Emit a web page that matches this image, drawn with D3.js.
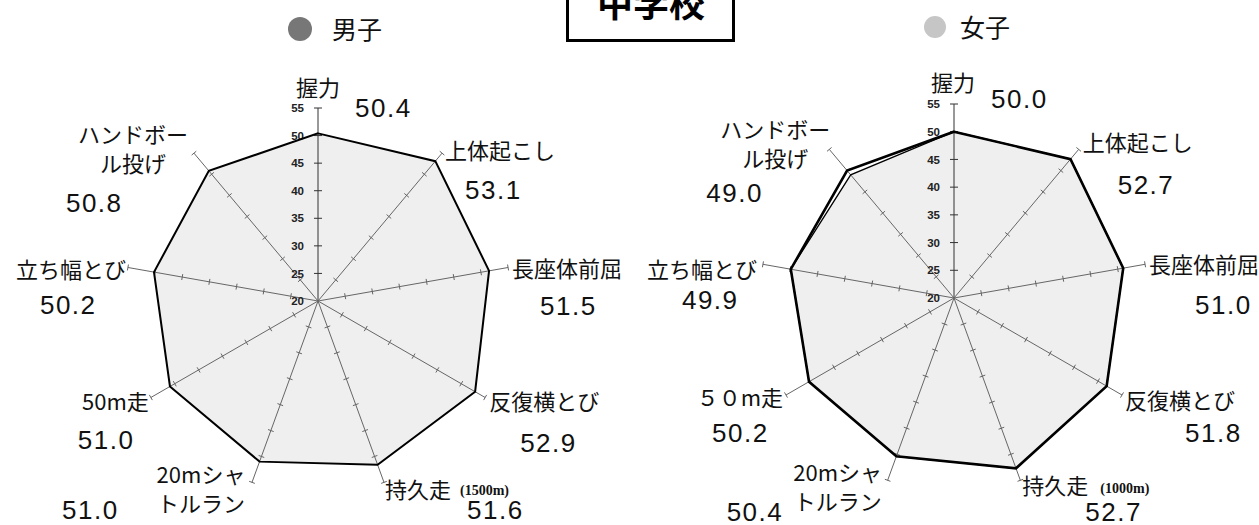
<!DOCTYPE html>
<html>
<head>
<meta charset="utf-8">
<script src="https://cdn.jsdelivr.net/npm/d3@7"></script>
<style>
body { margin: 0; background: #fff; }
.lab { font-family: "Noto Sans CJK JP", sans-serif; font-size: 22px; fill: #111; }
.val { font-family: "Liberation Sans", Arial, sans-serif; font-size: 26px; letter-spacing: 1.5px; fill: #111; }
.tk  { font-family: "Liberation Sans", Arial, sans-serif; font-size: 11.5px; font-weight: bold; fill: #222; }
.sub { font-family: "Liberation Serif", serif; font-size: 14px; font-weight: bold; fill: #111; }
</style>
</head>
<body>
<svg id="chart" width="1259" height="525"></svg>
<script>
// 種目（時計回り、握力が上）
var boyNames  = [["握力"], ["上体起こし"], ["長座体前屈"], ["反復横とび"], ["持久走"], ["20mシャ", "トルラン"], ["50m走"], ["立ち幅とび"], ["ハンドボー", "ル投げ"]];
var girlNames = [["握力"], ["上体起こし"], ["長座体前屈"], ["反復横とび"], ["持久走"], ["20mシャ", "トルラン"], ["５０m走"], ["立ち幅とび"], ["ハンドボー", "ル投げ"]];

// 得点
var boys   = [50.4, 53.1, 51.5, 52.9, 51.6, 51.0, 51.0, 50.2, 50.8];
var girls  = [50.0, 52.7, 51.0, 51.8, 52.7, 50.4, 50.2, 49.9, 49.0];
var girls2 = [50.0, 52.7, 51.0, 51.8, 52.7, 50.4, 50.2, 49.9, 50.0];

// 目盛
var tickVals = [20, 25, 30, 35, 40, 45, 50, 55];

var svg = d3.select("#chart");

// タイトル
svg.append("rect").attr("x", 567.5).attr("y", -10).attr("width", 166).attr("height", 50.5)
    .attr("fill", "#fff").attr("stroke", "#000").attr("stroke-width", 3);
svg.append("text").attr("x", 651).attr("y", 17).attr("text-anchor", "middle")
    .style("font-family", "Noto Sans CJK JP").style("font-size", "36px").style("font-weight", "bold")
    .text("中学校");

// 凡例
svg.append("circle").attr("cx", 300).attr("cy", 29).attr("r", 12).attr("fill", "#777");
svg.append("text").attr("class", "lab").attr("x", 332).attr("y", 39).style("font-size", "25px").text("男子");
svg.append("circle").attr("cx", 935).attr("cy", 27).attr("r", 11).attr("fill", "#c6c6c6");
svg.append("text").attr("class", "lab").attr("x", 960).attr("y", 37).style("font-size", "25px").text("女子");

function radar(o) {
    var n = o.names.length;
    var r = d3.scaleLinear().domain([20, 55]).range([0, o.R]);
    var ang = function(i) { return i * 2 * Math.PI / n; };
    var g = svg.append("g").attr("transform", "translate(" + o.cx + "," + o.cy + ")");
    var tip = function(i, v) { return [r(v) * Math.sin(ang(i)), -r(v) * Math.cos(ang(i))]; };

    var line = d3.lineRadial()
        .angle(function(d, i) { return ang(i); })
        .radius(function(d) { return r(d); })
        .curve(d3.curveLinearClosed);

    // 塗り
    g.append("path").attr("d", line(o.series[0])).attr("fill", "#efefef").attr("stroke", "none");

    // 軸
    d3.range(n).forEach(function(i) {
        var e = tip(i, 55);
        g.append("line").attr("x1", 0).attr("y1", 0).attr("x2", e[0]).attr("y2", e[1])
            .attr("stroke", i == 0 ? "#333" : "#666").attr("stroke-width", 1);
        var px = Math.cos(ang(i)), py = Math.sin(ang(i));
        var len = i == 0 ? 4 : 3;
        tickVals.slice(1).forEach(function(t) {
            var p = tip(i, t);
            g.append("line")
                .attr("x1", p[0] - px * len).attr("y1", p[1] - py * len)
                .attr("x2", p[0] + px * len).attr("y2", p[1] + py * len)
                .attr("stroke", i == 0 ? "#333" : "#666").attr("stroke-width", 1);
        });
    });

    // 目盛ラベル
    g.selectAll(".tk").data(tickVals).enter().append("text")
        .attr("class", "tk").attr("x", -14).attr("y", function(d) { return -r(d); })
        .attr("dy", "0.36em").attr("text-anchor", "end").text(function(d) { return d; });

    // 線
    o.series.slice().reverse().forEach(function(s, k) {
        var w = o.series.length > 1 && k == 0 ? 2.6 : (o.series.length > 1 ? 1.3 : 2);
        g.append("path").attr("d", line(s)).attr("fill", "none")
            .attr("stroke", "#000").attr("stroke-width", w).attr("stroke-linejoin", "miter");
    });

    // 種目名と得点
    o.names.forEach(function(nm, i) {
        var e = tip(i, 55), L = o.labOff[i], V = o.valOff[i];
        nm.forEach(function(s, j) {
            g.append("text").attr("class", "lab")
                .attr("x", e[0] + L[0]).attr("y", e[1] + L[1] + j * 29)
                .attr("text-anchor", L[2]).text(s);
        });
        g.append("text").attr("class", "val")
            .attr("x", e[0] + V[0]).attr("y", e[1] + V[1])
            .text(o.series[0][i].toFixed(1));
    });
    var e4 = tip(4, 55);
    g.append("text").attr("class", "sub").attr("x", e4[0] + o.subOff[0]).attr("y", e4[1] + o.subOff[1])
        .text(o.sub);
}

radar({
    cx: 318, cy: 301, R: 193,
    names: boyNames, series: [boys], sub: "(1500m)", subOff: [76, 13],
    labOff: [[0, -12, "middle"], [3, 6, "start"], [4, 9.5, "start"], [4, 12.5, "start"], [1, 16, "start"],
             [-51, 1, "middle"], [-2, 12.5, "end"], [-2, 10.5, "end"], [-61, -10, "middle"]],
    valOff: [[37, 9], [23, 46], [32, 47.5], [35, 54.5], [83, 36.5], [-190, 36.5], [-73, 51.5], [-88, 46.5], [-128, 59]]
});

radar({
    cx: 954, cy: 298, R: 194,
    names: girlNames, series: [girls, girls2], sub: "(1000m)", subOff: [80, 13],
    labOff: [[-1, -13, "middle"], [4, 2, "start"], [4, 9, "start"], [3, 14, "start"], [2, 14, "start"],
             [-50, 1, "middle"], [-3, 11, "end"], [-6, 14, "end"], [-54, -11, "middle"]],
    valOff: [[37, 4], [39, 45], [50, 50], [63, 47], [65, 40.5], [-161, 40.5], [-74, 47], [-81, 45], [-123, 53]]
});
</script>
</body>
</html>
